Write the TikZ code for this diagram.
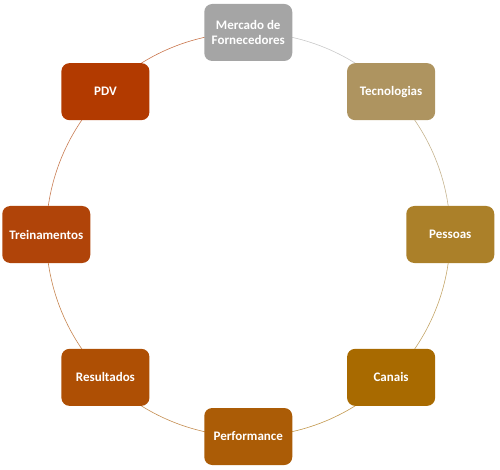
\documentclass[tikz,border=0pt]{standalone}
\usepackage{fontspec}
\setmainfont{Carlito}
\usetikzlibrary{backgrounds,calc}
\definecolor{cMer}{HTML}{A5A5A5}
\definecolor{cTec}{HTML}{AE9460}
\definecolor{cPes}{HTML}{AB8029}
\definecolor{cCan}{HTML}{A86A00}
\definecolor{cPer}{HTML}{AB5C06}
\definecolor{cRes}{HTML}{AE4F04}
\definecolor{cTre}{HTML}{B04409}
\definecolor{cPDV}{HTML}{B23A00}
\tikzset{
  box/.style={rectangle, rounded corners=8pt, minimum width=88pt, minimum height=57pt,
    inner sep=1pt, text=white, align=center,
    font=\fontsize{13}{15}\selectfont\bfseries},
  ring/.style={line width=0.6pt, bend left=22.5, looseness=0.885}
}
\begin{document}
\begin{tikzpicture}[x=1pt,y=1pt]
\useasboundingbox (0,0) rectangle (500,469);
\coordinate (c) at (248.25,234.5);
\node[box, fill=cMer] (mer) at ($(c)+(90:202)$) {Mercado de\\Fornecedores};
\node[box, fill=cTec] (tec) at ($(c)+(45:202)$) {Tecnologias};
\node[box, fill=cPes] (pes) at ($(c)+(0:202)$) {Pessoas};
\node[box, fill=cCan] (can) at ($(c)+(-45:202)$) {Canais};
\node[box, fill=cPer] (per) at ($(c)+(-90:202)$) {Performance};
\node[box, fill=cRes] (res) at ($(c)+(-135:202)$) {Resultados};
\node[box, fill=cTre] (tre) at ($(c)+(180:202)$) {Treinamentos};
\node[box, fill=cPDV] (pdv) at ($(c)+(135:202)$) {PDV};
\begin{scope}[on background layer]
\draw[ring, cMer!60] (mer.center) to (tec.center);
\draw[ring, cTec!70] (tec.center) to (pes.center);
\draw[ring, cPes!70] (pes.center) to (can.center);
\draw[ring, cCan!70] (can.center) to (per.center);
\draw[ring, cPer!70] (per.center) to (res.center);
\draw[ring, cRes!70] (res.center) to (tre.center);
\draw[ring, cTre!70] (tre.center) to (pdv.center);
\draw[ring, cPDV!70] (pdv.center) to (mer.center);
\end{scope}
\end{tikzpicture}
\end{document}
